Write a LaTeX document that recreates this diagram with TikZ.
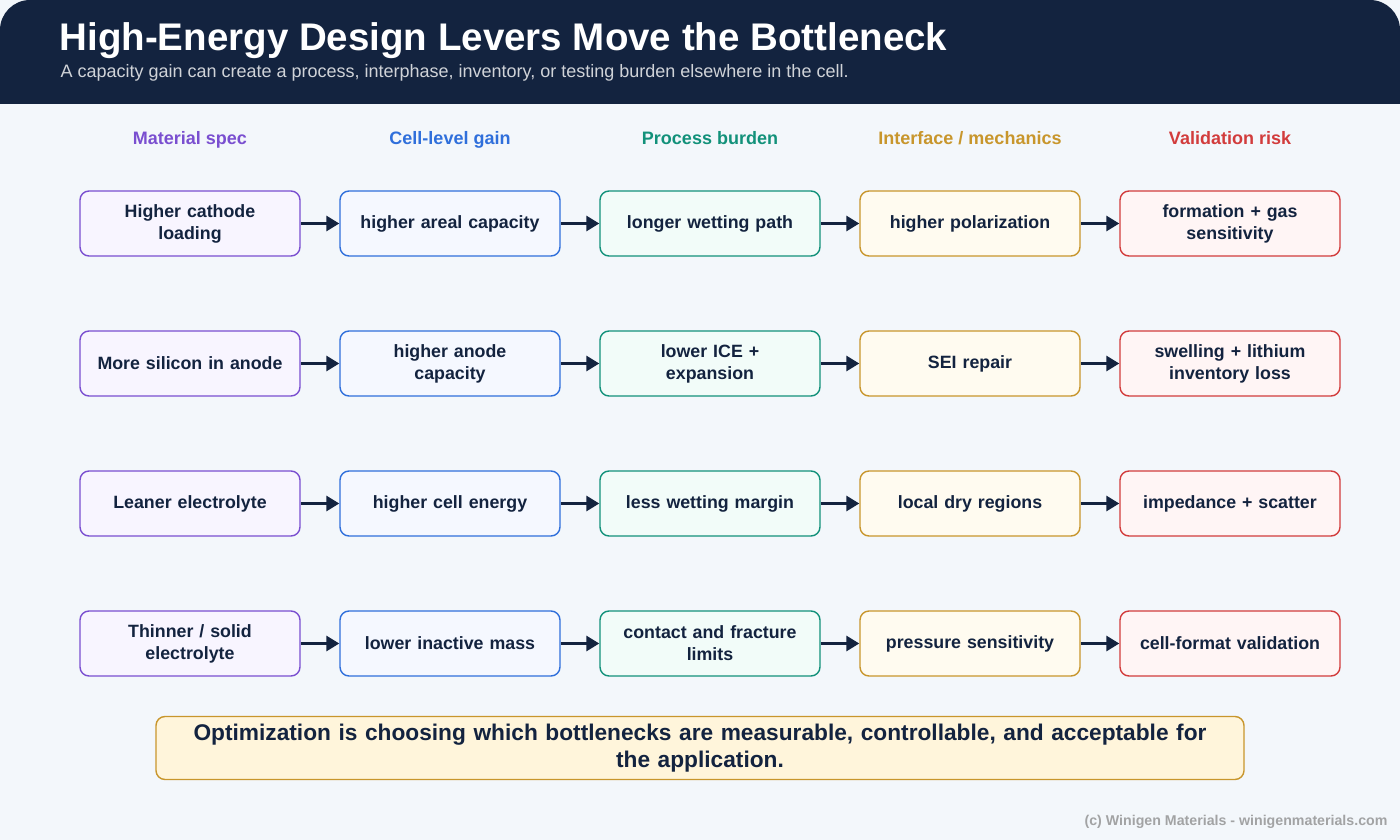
\documentclass[tikz,border=0pt]{standalone}
\usepackage{fontspec}
\setmainfont{Liberation Sans}
\usetikzlibrary{arrows.meta}
\definecolor{navy}{HTML}{13233F}
\definecolor{bg}{HTML}{F3F7FB}
\definecolor{cP}{HTML}{7A4FD0}\definecolor{fP}{HTML}{F8F5FF}
\definecolor{cB}{HTML}{2F6FDB}\definecolor{fB}{HTML}{F5F8FF}
\definecolor{cT}{HTML}{12917A}\definecolor{fT}{HTML}{F2FCF9}
\definecolor{cG}{HTML}{C8962C}\definecolor{fG}{HTML}{FFFBF0}
\definecolor{cR}{HTML}{D23C3C}\definecolor{fR}{HTML}{FFF5F5}
\definecolor{noteF}{HTML}{FFF5DB}
\tikzset{
 x=1pt,y=-1pt,
 box/.style={draw=#1,line width=1.4pt,rounded corners=9pt,minimum width=220pt,minimum height=65pt,align=center,text width=205pt,font=\fontsize{17.8}{22}\selectfont\bfseries,text=navy},
 hdr/.style={anchor=base,font=\fontsize{18}{20}\selectfont\bfseries,text=#1},
 arr/.style={draw=navy,line width=3pt,-{Triangle[length=13pt,width=15pt]}}
}
\begin{document}
\begin{tikzpicture}
\useasboundingbox (0,0) rectangle (1400,840);
\fill[bg] (0,0) rectangle (1400,840);
\fill[navy,rounded corners=30pt] (0,0) rectangle (1400,140);
\fill[navy] (0,60) rectangle (1400,104);
\fill[bg] (0,104) rectangle (1400,145);
\node[anchor=west,text=white,font=\fontsize{38.5}{42}\selectfont\bfseries] (title) at (56,41) {High-Energy Design Levers Move the Bottleneck};
\node[anchor=west,text=white!80!navy,font=\fontsize{18}{19}\selectfont] (sub) at (57,73) {A capacity gain can create a process, interphase, inventory, or testing burden elsewhere in the cell.};
\node[hdr=cP] (h1) at (190,145) {Material spec};
\node[hdr=cB] (h2) at (450,145) {Cell-level gain};
\node[hdr=cT] (h3) at (710,145) {Process burden};
\node[hdr=cG] (h4) at (970,145) {Interface / mechanics};
\node[hdr=cR] (h5) at (1230,145) {Validation risk};
\foreach \r/\y/\a/\b/\c/\d/\e in {
 1/223.5/{Higher cathode\\loading}/{higher areal capacity}/{longer wetting path}/{higher polarization}/{formation + gas\\sensitivity},
 2/363.5/{More silicon in anode}/{higher anode\\capacity}/{lower ICE +\\expansion}/{SEI repair}/{swelling + lithium\\inventory loss},
 3/503.5/{Leaner electrolyte}/{higher cell energy}/{less wetting margin}/{local dry regions}/{impedance + scatter},
 4/643.5/{Thinner / solid\\electrolyte}/{lower inactive mass}/{contact and fracture\\limits}/{pressure sensitivity}/{cell-format validation}}{
 \node[box=cP,fill=fP] (a\r) at (190,\y) {\a};
 \node[box=cB,fill=fB] (b\r) at (450,\y) {\b};
 \node[box=cT,fill=fT] (c\r) at (710,\y) {\c};
 \node[box=cG,fill=fG] (d\r) at (970,\y) {\d};
 \node[box=cR,fill=fR] (e\r) at (1230,\y) {\e};
 \draw[arr] (a\r) -- (b\r);
 \draw[arr] (b\r) -- (c\r);
 \draw[arr] (c\r) -- (d\r);
 \draw[arr] (d\r) -- (e\r);
}
\node[draw=cG,fill=noteF,line width=1.4pt,rounded corners=9pt,minimum width=1088pt,minimum height=63pt,align=center,text width=1060pt,font=\fontsize{22.7}{27}\selectfont\bfseries,text=navy] (note) at (700,748) {Optimization is choosing which bottlenecks are measurable, controllable, and acceptable for\\the application.};
\node[anchor=east,text=gray!70!bg,font=\fontsize{14.2}{15}\selectfont\bfseries] (foot) at (1391,822) {(c) Winigen Materials - winigenmaterials.com};
\end{tikzpicture}
\end{document}
